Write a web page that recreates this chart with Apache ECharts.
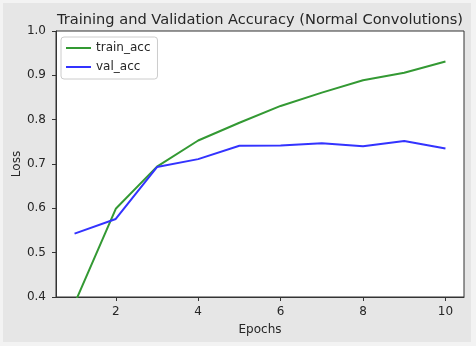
<!DOCTYPE html>
<html>
<head>
<meta charset="utf-8">
<script src="https://cdn.jsdelivr.net/npm/echarts@6/dist/echarts.min.js"></script>
<style>
html,body{margin:0;padding:0;background:#f3f3f3;width:476px;height:346px;overflow:hidden;}
#c{position:absolute;left:3px;top:3px;width:468px;height:339px;}
</style>
</head>
<body>
<div id="c"></div>
<script>
const epochs = [1,2,3,4,5,6,7,8,9,10];
const trainAcc = [0.385,0.599,0.694,0.753,0.793,0.831,0.861,0.889,0.906,0.931];
const valAcc = [0.543,0.576,0.693,0.711,0.741,0.742,0.747,0.740,0.752,0.735];
const xTicks = [2,4,6,8,10];
const yTicks = [0.4,0.5,0.6,0.7,0.8,0.9,1.0];

const font = 'DejaVu Sans';
const txt = '#262626';
const chart = echarts.init(document.getElementById('c'), null, {renderer:'canvas'});
chart.setOption({
  animation:false,
  backgroundColor:'#e6e6e6',
  textStyle:{fontFamily:font},
  title:{
    text:'Training and Validation Accuracy (Normal Convolutions)',
    left:252, top:5, textAlign:'center',
    textStyle:{fontFamily:font,fontSize:14.6,fontWeight:'normal',color:txt}
  },
  grid:{left:53, top:28, width:408, height:266, show:true, backgroundColor:'#ffffff', borderColor:'#333', borderWidth:1, containLabel:false, outerBoundsMode:'none'},
  legend:{
    left:58, top:34, orient:'vertical',
    backgroundColor:'#ffffff', borderColor:'#cccccc', borderWidth:1, borderRadius:3,
    padding:[4,7,5,5], itemGap:5, itemWidth:25, itemHeight:2, icon:'rect',
    textStyle:{fontFamily:font,fontSize:12,color:txt,lineHeight:14},
    data:['train_acc','val_acc']
  },
  xAxis:{
    type:'value', min:0.55, max:10.45,
    name:'Epochs', nameLocation:'middle', nameGap:27, nameMoveOverlap:false,
    nameTextStyle:{fontFamily:font,fontSize:12,color:txt},
    axisLine:{show:true,onZero:false,lineStyle:{color:'#333',width:1}},
    axisTick:{show:true,inside:false,length:4,customValues:xTicks,lineStyle:{color:'#333',width:1}},
    axisLabel:{customValues:xTicks,margin:9,fontFamily:font,fontSize:12,color:txt},
    splitLine:{show:false}
  },
  yAxis:{
    type:'value', min:yTicks[0], max:yTicks[yTicks.length-1], interval:0.1,
    name:'Loss', nameLocation:'middle', nameGap:33, nameRotate:90, nameMoveOverlap:false,
    nameTextStyle:{fontFamily:font,fontSize:12,color:txt},
    axisLine:{show:true,onZero:false,lineStyle:{color:'#333',width:1}},
    axisTick:{show:true,inside:false,length:4,lineStyle:{color:'#333',width:1}},
    axisLabel:{margin:10,fontFamily:font,fontSize:12,color:txt,formatter:v=>v.toFixed(1)},
    splitLine:{show:false}
  },
  series:[
    {name:'train_acc',type:'line',data:epochs.map((e,i)=>[e,trainAcc[i]]),symbol:'none',
     lineStyle:{color:'#339933',width:2},itemStyle:{color:'#339933'},clip:true},
    {name:'val_acc',type:'line',data:epochs.map((e,i)=>[e,valAcc[i]]),symbol:'none',
     lineStyle:{color:'#3333ff',width:2},itemStyle:{color:'#3333ff'},clip:true}
  ]
});
</script>
</body>
</html>
